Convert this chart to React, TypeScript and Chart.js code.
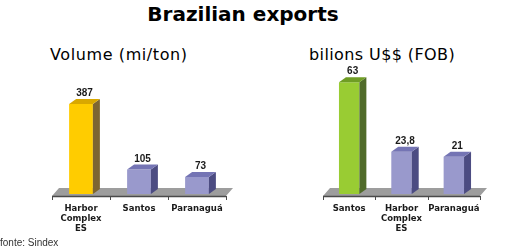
import React, { useEffect, useRef } from "react";
import { Chart, registerables } from "chart.js";

Chart.register(...registerables);

// ---- data ----
const volumeCategories: (string | string[])[] = [["Harbor", "Complex", "ES"], "Santos", "Paranaguá"];
const volumeValues = [387, 105, 73];
const valueCategories: (string | string[])[] = ["Santos", ["Harbor", "Complex", "ES"], "Paranaguá"];
const valueValues = [63, 23.8, 21];

// ---- styles ----
const volumeFront = ["#ffcc00", "#9999cc", "#9999cc"];
const volumeTop = ["#d9a800", "#7474b4", "#7474b4"];
const volumeSide = ["#7d6532", "#4c4c82", "#4c4c82"];
const valueFront = ["#99cc33", "#9999cc", "#9999cc"];
const valueTop = ["#6f9d24", "#7474b4", "#7474b4"];
const valueSide = ["#506b2a", "#4c4c82", "#4c4c82"];

const DX = 7;
const DY = 5;

const bar3d = {
  id: "bar3d",
  beforeDatasetsDraw(chart: any) {
    const { ctx, chartArea } = chart;
    const base = chart.scales.y.getPixelForValue(0);
    const l = chartArea.left;
    const r = chartArea.right;
    ctx.save();
    ctx.fillStyle = "#9d9d9d";
    ctx.beginPath();
    ctx.moveTo(l, base + 2);
    ctx.lineTo(r, base + 2);
    ctx.lineTo(r + 7, base - 6);
    ctx.lineTo(l + 7, base - 6);
    ctx.closePath();
    ctx.fill();
    ctx.strokeStyle = "#4a4a4a";
    ctx.lineWidth = 1.5;
    ctx.beginPath();
    ctx.moveTo(l, base + 2.5);
    ctx.lineTo(r, base + 2.5);
    ctx.stroke();
    const n = chart.data.labels.length;
    ctx.lineWidth = 1;
    for (let i = 0; i <= n; i++) {
      const x = Math.round(l + ((r - l) * i) / n) + 0.5;
      ctx.beginPath();
      ctx.moveTo(x, base + 2);
      ctx.lineTo(x, base + 6);
      ctx.stroke();
    }
    ctx.restore();
  },
  afterDatasetsDraw(chart: any, _args: any, opts: any) {
    const { ctx } = chart;
    const meta = chart.getDatasetMeta(0);
    const data = chart.data.datasets[0].data;
    ctx.save();
    meta.data.forEach((el: any, i: number) => {
      const p = el.getProps(["x", "y", "base", "width"], true);
      const left = p.x - p.width / 2;
      const right = p.x + p.width / 2;
      ctx.fillStyle = opts.side[i];
      ctx.beginPath();
      ctx.moveTo(right, p.y);
      ctx.lineTo(right + DX, p.y - DY);
      ctx.lineTo(right + DX, p.base - DY);
      ctx.lineTo(right, p.base);
      ctx.closePath();
      ctx.fill();
      ctx.fillStyle = opts.top[i];
      ctx.beginPath();
      ctx.moveTo(left, p.y);
      ctx.lineTo(left + DX, p.y - DY);
      ctx.lineTo(right + DX, p.y - DY);
      ctx.lineTo(right, p.y);
      ctx.closePath();
      ctx.fill();
      ctx.fillStyle = "#1a1a1a";
      ctx.font = 'bold 10px "Liberation Sans", Arial, sans-serif';
      ctx.textAlign = "center";
      ctx.textBaseline = "alphabetic";
      ctx.fillText(String(data[i]).replace(".", ","), p.x + DX / 2, p.y - DY - 3);
    });
    ctx.restore();
  },
};

type Props = {
  labels: (string | string[])[];
  values: number[];
  max: number;
  front: string[];
  top: string[];
  side: string[];
  barPct: number;
  padL: number;
  padR: number;
  left: number;
};

function Bar3D(props: Props) {
  const ref = useRef<HTMLCanvasElement>(null);
  useEffect(() => {
    if (!ref.current) return;
    const chart = new Chart(ref.current, {
      type: "bar",
      data: {
        labels: props.labels,
        datasets: [
          {
            data: props.values,
            backgroundColor: props.front,
            borderWidth: 0,
            barPercentage: props.barPct,
            categoryPercentage: 1,
          },
        ],
      },
      options: {
        animation: false,
        responsive: false,
        devicePixelRatio: 1,
        layout: { padding: { top: 20, left: props.padL, right: props.padR, bottom: 0 } },
        plugins: {
          legend: { display: false },
          tooltip: { enabled: false },
          bar3d: { top: props.top, side: props.side },
        } as any,
        scales: {
          y: { display: false, min: 0, max: props.max },
          x: {
            grid: { display: false, drawTicks: false },
            border: { display: false },
            ticks: {
              color: "#1a1a1a",
              font: { family: '"DejaVu Sans", Verdana, sans-serif', size: 8.5, weight: "bold", lineHeight: 1.15 },
              padding: 10,
              maxRotation: 0,
              autoSkip: false,
            },
            afterFit: (s: any) => {
              s.height = 46;
            },
          },
        },
      },
      plugins: [bar3d],
    });
    return () => chart.destroy();
  }, []);
  return (
    <canvas
      ref={ref}
      width={260}
      height={180}
      style={{ position: "absolute", left: props.left, top: 60, width: 260, height: 180 }}
    />
  );
}

export default function App() {
  return (
    <div
      style={{
        position: "fixed",
        left: 0,
        top: 0,
        width: 520,
        height: 251,
        background: "#ffffff",
        overflow: "hidden",
        fontFamily: '"DejaVu Sans", Verdana, sans-serif',
        color: "#000",
      }}
    >
      <div
        style={{
          position: "absolute",
          left: 0,
          width: 486,
          top: 1,
          textAlign: "center",
          fontWeight: "bold",
          fontSize: 20,
          lineHeight: "26px",
        }}
      >
        Brazilian exports
      </div>
      <div style={{ position: "absolute", left: 50, top: 45, fontSize: 16, lineHeight: "20px", letterSpacing: 0.6 }}>
        Volume (mi/ton)
      </div>
      <div style={{ position: "absolute", left: 309, top: 45, fontSize: 16, lineHeight: "20px", letterSpacing: 0.4 }}>
        bilions U$$ (FOB)
      </div>
      <Bar3D
        labels={volumeCategories}
        values={volumeValues}
        max={490}
        front={volumeFront}
        top={volumeTop}
        side={volumeSide}
        barPct={0.41}
        padL={52}
        padR={34}
        left={0}
      />
      <Bar3D
        labels={valueCategories}
        values={valueValues}
        max={64.3}
        front={valueFront}
        top={valueTop}
        side={valueSide}
        barPct={0.39}
        padL={63}
        padR={40}
        left={260}
      />
      <div
        style={{
          position: "absolute",
          left: 0,
          top: 237,
          fontFamily: '"Liberation Sans", Arial, sans-serif',
          fontSize: 10,
          lineHeight: "12px",
          color: "#333",
        }}
      >
        fonte: Sindex
      </div>
    </div>
  );
}
